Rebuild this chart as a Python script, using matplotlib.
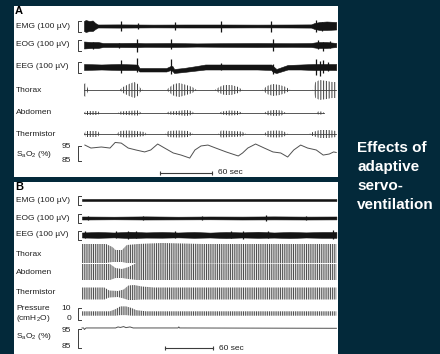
import numpy as np
import matplotlib
matplotlib.use("Agg")
import matplotlib.pyplot as plt

plt.rcParams['font.family'] = ['Liberation Sans', 'DejaVu Sans']
plt.rcParams['mathtext.fontset'] = 'custom'
plt.rcParams['mathtext.rm'] = 'Liberation Sans'
plt.rcParams['mathtext.default'] = 'rm'
plt.rcParams['hatch.linewidth'] = 0.7

# ---------------- Panel A: untreated (times in s, signals in trace units) ----------------
a_emg_t = [0, 2, 6, 10, 13, 16, 40, 80, 120, 160, 200, 240, 262, 266, 272, 280, 291]
a_emg_top = [5, 6, 5, 5.5, 3, 1.5, 1.6, 1.4, 1.5, 1.5, 1.4, 1.5, 1.6, 3, 4, 4.5, 4]
a_emg_bot = [-5, -6, -5, -5, -3, -1.5, -1.6, -1.4, -1.5, -1.5, -1.4, -1.5, -1.6, -3, -4, -4, -3.5]
a_emg_spk_t = [43, 62, 105, 158, 216, 268, 275, 282]
a_emg_spk_up = [5, 3, 4, 5, 5, 6, 4, 3]
a_emg_spk_dn = [5, 3, 4, 6, 6, 6, 5, 3]

a_eog_t = [0, 8, 16, 22, 40, 60, 70, 100, 130, 160, 200, 240, 262, 270, 280, 291]
a_eog_top = [3.5, 3, 3, 2, 2, 2.2, 1.8, 2, 1.6, 1.8, 2, 1.8, 2, 3, 3, 2]
a_eog_bot = [-3.5, -3, -3, -2, -2, -2.2, -1.8, -2, -1.6, -1.8, -2, -1.8, -2, -3, -3, -2]
a_eog_spk_t = [10, 40, 61, 100, 218, 270, 276, 284]
a_eog_spk_up = [3, 2, 6, 6, 6, 5, 3, 4]
a_eog_spk_dn = [4, 3, 7, 4, 6, 4, 6, 3]

a_eeg_t = [0, 20, 40, 60, 62, 64, 95, 100, 102, 104, 115, 130, 140, 160, 200, 216, 218, 222, 235, 250, 265, 291]
a_eeg_top = [3, 2.5, 3, 2.5, 2, -1, -1, 1, 1, -2, -1, 1, 2.5, 2.5, 2.5, 2.5, 1, -2, 2, 2.5, 3, 3]
a_eeg_bot = [-3, -2.5, -3, -3, -3, -4.5, -4.5, -3, -4, -6, -5, -3.5, -2.5, -2.5, -2.5, -3, -5, -6, -2.5, -2.5, -3, -3]
a_eeg_spk_t = [43, 61, 100, 158, 218, 268, 272, 276, 282]
a_eeg_spk_up = [7, 9, 8, 4, 3, 8, 6, 7, 5]
a_eeg_spk_dn = [6, 5, 7, 3, 7, 8, 9, 6, 4]

a_thx_t = [0, 2, 5, 41, 45, 52, 58, 62, 65, 68, 95, 99, 104, 110, 118, 125, 130, 151, 156, 162, 170, 178, 183,
           206, 211, 218, 226, 233, 238, 264, 267, 272, 280, 286, 291]
a_thx_amp = [6, 7, 0, 0, 3, 6, 8, 6, 2, 0, 0, 3, 6, 7, 5, 3, 0, 0, 3, 5, 5, 3, 0,
             0, 4, 6, 5, 3, 0, 0, 8, 10, 9, 8, 8]

a_abd_t = [0, 2, 16, 18, 39, 42, 50, 60, 63, 66, 95, 98, 108, 118, 124, 127, 156, 159, 168, 178, 183,
           208, 211, 220, 228, 233, 268, 270, 275, 277]
a_abd_amp = [0, 2, 2, 0, 0, 1.5, 2, 2.5, 2.5, 0, 0, 1.5, 2, 3, 2, 0, 0, 1.5, 2.5, 2, 0,
             0, 2, 3, 2.5, 0, 0, 1.5, 1.5, 0]

a_thm_t = [0, 2, 16, 18, 38, 41, 50, 60, 70, 72, 94, 97, 108, 120, 126, 155, 158, 170, 182, 187,
           208, 211, 222, 230, 235, 260, 264, 272, 282, 291]
a_thm_amp = [0, 3, 3, 0, 0, 3, 3.5, 3, 2, 0, 0, 3, 3.5, 3, 0, 0, 3.5, 3, 2.5, 0,
             0, 3, 3.5, 3, 0, 0, 2, 4, 4, 3]

a_sao2_t = [1, 8, 20, 30, 36, 43, 51, 60, 70, 77, 85, 93, 103, 112, 122, 128, 135, 143, 152, 164, 178,
            183, 189, 198, 208, 218, 227, 235, 242, 250, 258, 268, 276, 283, 288, 291]
a_sao2 = [96.5, 94.2, 95, 94.2, 98.5, 98, 94.2, 92.7, 91.2, 92.7, 97.3, 94.2, 90.4, 88.8, 86.5, 92.7, 95.8,
          96.5, 94.2, 91.2, 88.1, 90.4, 94.2, 97.3, 94.2, 91.2, 90.4, 87.3, 92.7, 96.5, 94.2, 92.7, 88.8,
          89.6, 91.2, 90.8]

# ---------------- Panel B: adaptive servo-ventilation ----------------
b_emg_t = [0, 60, 120, 180, 240, 318]
b_emg_top = [1, 1.1, 1, 1, 1.1, 1]
b_emg_bot = [-1, -1, -1.1, -1, -1, -1]

b_eog_t = [0, 40, 80, 120, 160, 200, 240, 280, 318]
b_eog_top = [1.5, 1.3, 1.6, 1.3, 1.5, 1.4, 1.6, 1.4, 1.5]
b_eog_bot = [-1.5, -1.3, -1.5, -1.4, -1.3, -1.5, -1.4, -1.5, -1.4]
b_eog_spk_t = [8, 76, 150, 230, 280]
b_eog_spk_up = [2, 2.5, 2, 3, 2.5]
b_eog_spk_dn = [2, 2, 2, 2.5, 2]

b_eeg_t = [0, 20, 40, 60, 80, 100, 120, 140, 160, 180, 200, 220, 240, 260, 280, 300, 318]
b_eeg_top = [2.5, 3, 2.5, 3.2, 2.6, 3, 2.5, 3, 2.4, 3, 2.6, 3.2, 2.5, 3, 2.6, 3, 3]
b_eeg_bot = [-2.5, -2.8, -2.4, -3, -2.6, -2.7, -2.4, -2.8, -2.5, -3, -2.5, -2.8, -2.6, -3, -2.5, -2.8, -2.8]
b_eeg_spk_t = [4, 42, 58, 67, 116, 186, 201, 233, 314]
b_eeg_spk_up = [4, 4, 4.5, 4, 4, 4.5, 4, 4, 5]
b_eeg_spk_dn = [3, 3, 3.5, 3, 3, 3, 3.5, 3, 4]

b_thx_t = [0, 30, 38, 42, 50, 56, 70, 100, 150, 318]
b_thx_top = [10, 10, 7, 4, 4, 9, 10, 11, 10, 10]
b_thx_bot = [-9, -9, -8, -8, -8, -9, -9, -9, -9, -9]

b_abd_t = [0, 35, 42, 50, 58, 68, 318]
b_abd_top = [8, 8, 4, 3, 5, 9, 8]
b_abd_bot = [-8, -8, -6, -6, -7, -8, -8]

b_thm_t = [0, 28, 34, 45, 52, 58, 65, 75, 90, 318]
b_thm_top = [6, 6, 3, 2.5, 4, 8, 8.5, 7, 6, 6]
b_thm_bot = [-6, -6, -4, -3.5, -5, -6.5, -6.5, -6, -6, -6]

b_prs_t = [0, 35, 42, 48, 55, 62, 68, 80, 318]       # cmH2O
b_prs_hi = [7, 7, 9, 11.5, 11.5, 10, 8, 7, 7]
b_prs_lo = [3, 3, 3, 3.5, 3.5, 3, 3, 3, 3]

b_sao2_t = [0, 2, 3, 5, 42, 45, 48, 52, 55, 60, 64, 120, 121, 122, 318]
b_sao2 = [96.2, 96.2, 95.3, 96.2, 96.2, 96.8, 96.5, 97, 96.4, 96.8, 96.2, 96.2, 96.8, 96.2, 96.0]

INK = '#141414'
GREY = '#3c3c3c'
TXT = '#202020'

fig = plt.figure(figsize=(4.4, 3.54), dpi=100)
fig.patch.set_facecolor('#03293a')


def panel(box, x0, spp):
    l, t, r, b = box
    ax = fig.add_axes([l / 440, 1 - b / 354, (r - l) / 440, (b - t) / 354])
    ax.set_xlim((l - x0) * spp, (r - x0) * spp)
    ax.set_ylim(b, t)
    ax.set_xticks([])
    ax.set_yticks([])
    for s in ax.spines.values():
        s.set_visible(False)
    ax.set_facecolor('white')
    return ax


def band(ax, y0, t, top, bot, spk=None):
    ax.fill_between(t, y0 - np.asarray(top), y0 - np.asarray(bot), color=INK, lw=0.4)
    if spk is not None:
        st, up, dn = spk
        ax.vlines(st, y0 - np.asarray(up), y0 + np.asarray(dn), color=INK, lw=0.9)


def breath(ax, y0, t, top, bot, t_end, base=True, hatch='||||||', color=GREY):
    if base:
        ax.plot([0, t_end], [y0, y0], color=color, lw=0.6)
    ax.fill_between(t, y0 - np.asarray(top), y0 - np.asarray(bot), facecolor='none',
                    edgecolor=color, hatch=hatch, lw=0)


def bracket(ax, x, y1, y2, w):
    ax.plot([x + w, x, x, x + w], [y1, y1, y2, y2], color=GREY, lw=0.7)


def scalebar(ax, t0, y, X):
    ax.plot([t0, t0 + 60], [y, y], color=GREY, lw=0.8)
    ax.vlines([t0, t0 + 60], y - 2, y + 2, color=GREY, lw=0.8)
    ax.text(t0 + 60 + X(6) - X(0), y, '60 sec', fontsize=6, color=TXT, va='center', ha='left')


# ---- Panel A ----
A_X0, A_SPP = 84, 60 / 52
ax = panel((14, 6, 338, 177), A_X0, A_SPP)
XA = lambda px: (px - A_X0) * A_SPP
ax.text(XA(15), 11, 'A', fontsize=8, fontweight='bold', color='black', va='center')
for name, y in [('EMG (100 µV)', 26), ('EOG (100 µV)', 45), ('EEG (100 µV)', 67), ('Thorax', 90),
                ('Abdomen', 113), ('Thermistor', 134), ('S$_a$O$_2$ (%)', 155)]:
    ax.text(XA(16), y, name, fontsize=6, color=TXT, va='center')
ax.text(XA(71), 147, '95', fontsize=6, color=TXT, va='center', ha='right')
ax.text(XA(71), 160, '85', fontsize=6, color=TXT, va='center', ha='right')
for y in (26, 45, 67):
    bracket(ax, XA(78), y - 5, y + 6, XA(80.5) - XA(78))
bracket(ax, XA(78), 146, 160.5, XA(80.5) - XA(78))

band(ax, 26, a_emg_t, a_emg_top, a_emg_bot, (a_emg_spk_t, a_emg_spk_up, a_emg_spk_dn))
band(ax, 45, a_eog_t, a_eog_top, a_eog_bot, (a_eog_spk_t, a_eog_spk_up, a_eog_spk_dn))
band(ax, 67, a_eeg_t, a_eeg_top, a_eeg_bot, (a_eeg_spk_t, a_eeg_spk_up, a_eeg_spk_dn))
amp = np.asarray(a_thx_amp)
breath(ax, 90, a_thx_t, amp, -amp, a_thx_t[-1])
amp = np.asarray(a_abd_amp)
breath(ax, 113, a_abd_t, amp, -amp, a_abd_t[-1])
amp = np.asarray(a_thm_amp)
breath(ax, 134, a_thm_t, amp, -amp, a_thm_t[-1])
ax.plot(a_sao2_t, 147 + (95 - np.asarray(a_sao2)) * 1.3, color='#505050', lw=0.7)
scalebar(ax, XA(160), 173, XA)

# ---- Panel B ----
B_X0, B_SPP = 82, 60 / 48
bx = panel((14, 182, 338, 354), B_X0, B_SPP)
XB = lambda px: (px - B_X0) * B_SPP
bx.text(XB(15), 187, 'B', fontsize=8, fontweight='bold', color='black', va='center')
for name, y in [('EMG (100 µV)', 200), ('EOG (100 µV)', 218), ('EEG (100 µV)', 235), ('Thorax', 254),
                ('Abdomen', 272), ('Thermistor', 293), ('Pressure', 308), ('(cmH$_2$O)', 319),
                ('S$_a$O$_2$ (%)', 337)]:
    bx.text(XB(16), y, name, fontsize=6, color=TXT, va='center')
for lab, y in [('10', 308), ('0', 319), ('95', 330), ('85', 347)]:
    bx.text(XB(71), y, lab, fontsize=6, color=TXT, va='center', ha='right')
w = XB(80.5) - XB(78)
for y in (200, 218, 235):
    bracket(bx, XB(78), y - 4.5, y + 5, w)
bracket(bx, XB(78), 307.5, 320, w)
bracket(bx, XB(78), 328.5, 348, w)

band(bx, 200, b_emg_t, b_emg_top, b_emg_bot)
band(bx, 218, b_eog_t, b_eog_top, b_eog_bot, (b_eog_spk_t, b_eog_spk_up, b_eog_spk_dn))
band(bx, 235, b_eeg_t, b_eeg_top, b_eeg_bot, (b_eeg_spk_t, b_eeg_spk_up, b_eeg_spk_dn))
dense = '|||||||||'
breath(bx, 254, b_thx_t, b_thx_top, b_thx_bot, 318, base=False, hatch=dense, color='#4a4a4a')
breath(bx, 272, b_abd_t, b_abd_top, b_abd_bot, 318, base=False, hatch=dense, color='#4a4a4a')
breath(bx, 293.5, b_thm_t, b_thm_top, b_thm_bot, 318, base=False, hatch=dense, color='#4a4a4a')
# pressure: 0 cmH2O at y=319, 1.1 px per cmH2O
breath(bx, 319, b_prs_t, np.asarray(b_prs_hi) * 1.1, np.asarray(b_prs_lo) * 1.1, 318, base=False,
       hatch=dense, color='#4a4a4a')
bx.plot(b_sao2_t, 330 + (95 - np.asarray(b_sao2)) * 1.7, color='#505050', lw=0.7)
scalebar(bx, XB(165), 348, XB)

# ---- title text ----
for i, line in enumerate(['Effects of', 'adaptive', 'servo-', 'ventilation']):
    fig.text(357 / 440, 1 - (152 + 19 * i) / 354, line, fontsize=11, fontweight='bold',
             color='white', va='baseline', ha='left')

fig.savefig('out.png', dpi=100, facecolor=fig.get_facecolor())
